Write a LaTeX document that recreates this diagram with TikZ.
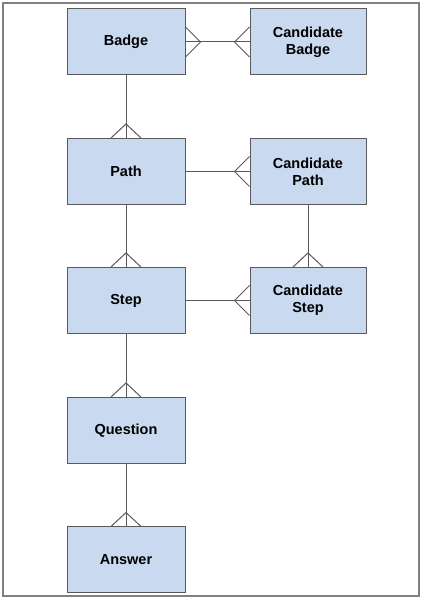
\documentclass[tikz,border=0pt]{standalone}
\usepackage{fontspec}
\setmainfont{Liberation Sans}
\definecolor{boxfill}{HTML}{C9DAF0}
\definecolor{boxline}{HTML}{595959}
\definecolor{framecol}{HTML}{808080}
\begin{document}
\begin{tikzpicture}[x=1pt,y=1pt,
  entity/.style={draw=boxline,fill=boxfill,line width=1pt,minimum height=66pt,inner sep=0pt,
    align=center,font=\fontsize{14.5}{17}\selectfont\bfseries},
  leftbox/.style={entity,minimum width=118pt},
  rightbox/.style={entity,minimum width=116pt},
  rel/.style={draw=boxline,line width=1pt}]
\useasboundingbox (0,0) rectangle (423,600);
\draw[framecol,line width=1.5pt] (3,4) rectangle (419,597);
\node[leftbox] (badge) at (126,558) {Badge};
\node[leftbox] (path) at (126,428.5) {Path};
\node[leftbox] (step) at (126,299.5) {Step};
\node[leftbox] (question) at (126,169.5) {Question};
\node[leftbox] (answer) at (126,40) {Answer};
\node[rightbox] (cbadge) at (308,558) {Candidate\\Badge};
\node[rightbox] (cpath) at (308,428.5) {Candidate\\Path};
\node[rightbox] (cstep) at (308,299.5) {Candidate\\Step};
% connectors
\draw[rel] (badge.east) -- (cbadge.west);
\draw[rel] (badge.south) -- (path.north);
\draw[rel] (path.east) -- (cpath.west);
\draw[rel] (cpath.south) -- (cstep.north);
\draw[rel] (path.south) -- (step.north);
\draw[rel] (step.east) -- (cstep.west);
\draw[rel] (step.south) -- (question.north);
\draw[rel] (question.south) -- (answer.north);
% crow's feet
\draw[rel] ([yshift=15pt]badge.east) -- ([xshift=15pt]badge.east) -- ([yshift=-15pt]badge.east);
\draw[rel] ([yshift=15pt]cbadge.west) -- ([xshift=-15pt]cbadge.west) -- ([yshift=-15pt]cbadge.west);
\draw[rel] ([yshift=15pt]cpath.west) -- ([xshift=-15pt]cpath.west) -- ([yshift=-15pt]cpath.west);
\draw[rel] ([yshift=15pt]cstep.west) -- ([xshift=-15pt]cstep.west) -- ([yshift=-15pt]cstep.west);
\draw[rel] ([xshift=-15pt]path.north) -- ([yshift=14pt]path.north) -- ([xshift=15pt]path.north);
\draw[rel] ([xshift=-15pt]step.north) -- ([yshift=14pt]step.north) -- ([xshift=15pt]step.north);
\draw[rel] ([xshift=-15pt]question.north) -- ([yshift=14pt]question.north) -- ([xshift=15pt]question.north);
\draw[rel] ([xshift=-15pt]answer.north) -- ([yshift=14pt]answer.north) -- ([xshift=15pt]answer.north);
\draw[rel] ([xshift=-15pt]cstep.north) -- ([yshift=14pt]cstep.north) -- ([xshift=15pt]cstep.north);
\end{tikzpicture}
\end{document}
